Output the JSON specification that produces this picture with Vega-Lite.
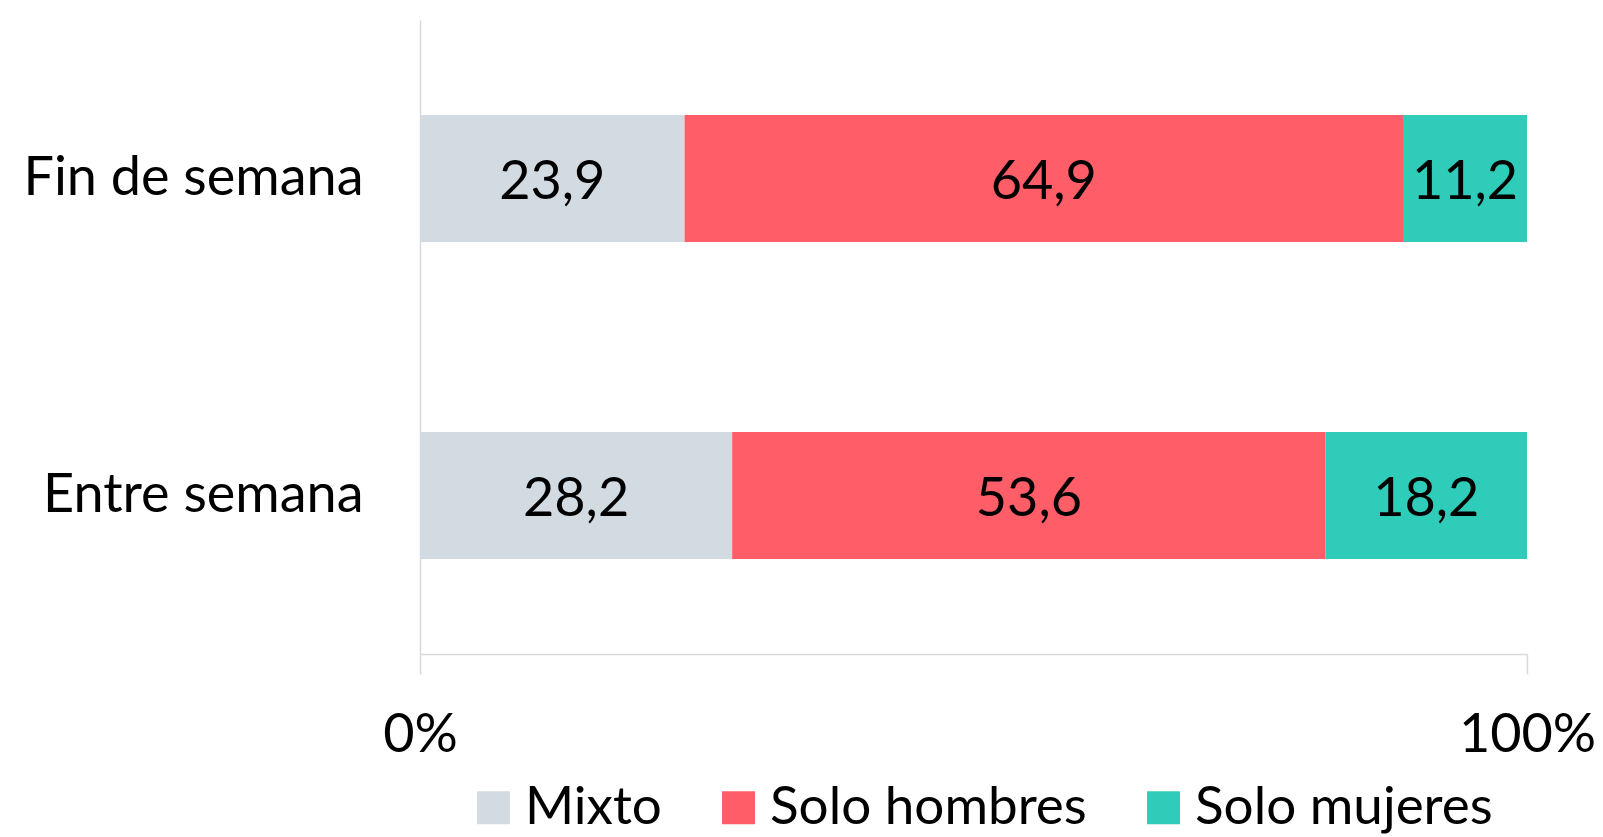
{
  "$schema": "https://vega.github.io/schema/vega-lite/v6.json",
  "autosize": {"type": "none"},
  "padding": {"left": 420, "top": 20, "right": 76, "bottom": 183},
  "width": 1107,
  "height": 634,
  "background": "white",
  "config": {
    "locale": {"number": {"decimal": ",", "thousands": ".", "grouping": [3], "currency": ["", " €"]}},
    "font": "Lato",
    "view": {"stroke": null}
  },
  "data": {
    "values": [
      {"periodo": "Fin de semana", "grupo": "Mixto", "orden": 1, "valor": 23.9},
      {"periodo": "Fin de semana", "grupo": "Solo hombres", "orden": 2, "valor": 64.9},
      {"periodo": "Fin de semana", "grupo": "Solo mujeres", "orden": 3, "valor": 11.2},
      {"periodo": "Entre semana", "grupo": "Mixto", "orden": 1, "valor": 28.2},
      {"periodo": "Entre semana", "grupo": "Solo hombres", "orden": 2, "valor": 53.6},
      {"periodo": "Entre semana", "grupo": "Solo mujeres", "orden": 3, "valor": 18.2}
    ]
  },
  "transform": [
    {"stack": "valor", "groupby": ["periodo"], "sort": [{"field": "orden", "order": "ascending"}], "as": ["v0", "v1"]},
    {"calculate": "(datum.v0 + datum.v1) / 2", "as": "vmid"}
  ],
  "encoding": {
    "y": {
      "field": "periodo", "type": "nominal", "sort": ["Fin de semana", "Entre semana"],
      "scale": {"paddingInner": 0.6, "paddingOuter": 0.3},
      "axis": {"title": null, "ticks": false, "labelFontSize": 54, "labelColor": "#000000", "labelPadding": 57, "labelLimit": 0, "domainColor": "#d9d9d9", "domainWidth": 1.5, "labelFont": "Lato"}
    }
  },
  "layer": [
    {
      "mark": {"type": "bar"},
      "encoding": {
        "x": {
          "field": "v0", "type": "quantitative",
          "scale": {"domain": [0, 100], "nice": false},
          "axis": {"title": null, "values": [0, 100], "labelExpr": "datum.value + '%'", "grid": false, "tickSize": 20, "tickColor": "#d9d9d9", "tickWidth": 1.5, "domainColor": "#d9d9d9", "domainWidth": 1.5, "labelFontSize": 54, "labelColor": "#000000", "labelPadding": 34, "labelFont": "Lato", "labelFlush": false}
        },
        "x2": {"field": "v1"},
        "color": {
          "field": "grupo", "type": "nominal",
          "scale": {"domain": ["Mixto", "Solo hombres", "Solo mujeres"], "range": ["#D2DAE2", "#FF5E68", "#2ECCB9"]},
          "legend": {
            "title": null, "orient": "none", "direction": "horizontal", "legendX": 47, "legendY": 761,
            "symbolType": "square", "symbolSize": 1089, "symbolStrokeWidth": 0, "symbolOpacity": 1,
            "labelFontSize": 53, "labelColor": "#000000", "labelFont": "Lato", "labelOffset": 5,
            "columnPadding": 50, "padding": 0, "labelLimit": 0
          }
        }
      }
    },
    {
      "mark": {"type": "text", "fontSize": 54, "color": "#000000", "align": "center", "baseline": "middle", "font": "Lato", "dy": 4},
      "encoding": {
        "x": {"field": "vmid", "type": "quantitative"},
        "text": {"field": "valor", "type": "quantitative", "format": ".1f"}
      }
    }
  ]
}
